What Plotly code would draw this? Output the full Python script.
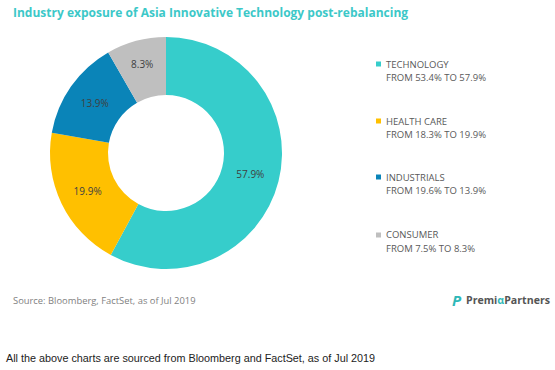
import plotly.graph_objects as go

categories = ["TECHNOLOGY", "HEALTH CARE", "INDUSTRIALS", "CONSUMER"]
values_after = [57.9, 19.9, 13.9, 8.3]
values_before = [53.4, 18.3, 19.6, 7.5]
colors = ["#36CDCB", "#FFC000", "#0A84B8", "#BFBFBF"]

W, H = 555, 370


def px(x):
    return x / W


def py(y):
    return 1 - y / H


fig = go.Figure()
fig.add_trace(go.Pie(
    labels=categories,
    values=values_after,
    sort=False,
    direction="clockwise",
    rotation=0,
    hole=0.5,
    marker=dict(colors=colors, line=dict(width=0)),
    texttemplate="%{value:.1f}%",
    textposition="inside",
    insidetextorientation="horizontal",
    textfont=dict(family="Open Sans", size=10, color="#404040"),
    domain=dict(x=[px(166 - 116), px(166 + 116)], y=[py(269), py(37)]),
    showlegend=False,
))

annotations = []
shapes = []
legend_y = [64, 121, 177, 235]
for cat, b, a, c, yy in zip(categories, values_before, values_after, colors, legend_y):
    shapes.append(dict(type="rect", xref="paper", yref="paper",
                       x0=px(376), x1=px(381), y0=py(yy + 2.5), y1=py(yy - 2.5),
                       fillcolor=c, line=dict(width=0)))
    annotations.append(dict(text=cat, x=px(384), y=py(yy), xref="paper", yref="paper",
                            xanchor="left", yanchor="middle", showarrow=False,
                            font=dict(family="Open Sans", size=9.5, color="#595959")))
    annotations.append(dict(text=f"FROM {b}% TO {a}%", x=px(384), y=py(yy + 13.5),
                            xref="paper", yref="paper",
                            xanchor="left", yanchor="middle", showarrow=False,
                            font=dict(family="Open Sans", size=9.5, color="#595959")))

annotations.append(dict(text="<b>Industry exposure of Asia Innovative Technology post-rebalancing</b>",
                        x=px(11), y=py(12), xref="paper", yref="paper",
                        xanchor="left", yanchor="middle", showarrow=False,
                        font=dict(family="Open Sans", size=12, color="#3CC8C8")))
annotations.append(dict(text="Source: Bloomberg, FactSet, as of Jul 2019",
                        x=px(11), y=py(300), xref="paper", yref="paper",
                        xanchor="left", yanchor="middle", showarrow=False,
                        font=dict(family="Open Sans", size=9.4, color="#7F7F7F")))
annotations.append(dict(text="<b><i>P</i></b>",
                        x=px(457), y=py(300), xref="paper", yref="paper",
                        xanchor="center", yanchor="middle", showarrow=False,
                        font=dict(family="Open Sans", size=15, color="#2FB8B8")))
annotations.append(dict(text="<b>Premi<span style='color:#2FB8B8'>α</span>Partners</b>",
                        x=px(552), y=py(300), xref="paper", yref="paper",
                        xanchor="right", yanchor="middle", showarrow=False,
                        font=dict(family="Open Sans", size=10.6, color="#555555")))
annotations.append(dict(text="All the above charts are sourced from Bloomberg and FactSet, as of Jul 2019",
                        x=px(4), y=py(358), xref="paper", yref="paper",
                        xanchor="left", yanchor="middle", showarrow=False,
                        font=dict(family="Liberation Sans", size=10.8, color="#222222")))

fig.update_layout(
    width=W, height=H,
    margin=dict(l=0, r=0, t=0, b=0),
    paper_bgcolor="white", plot_bgcolor="white",
    annotations=annotations, shapes=shapes,
)

fig.write_html("out.html", config={"displayModeBar": False},
               post_script="document.body.style.margin='0';")
